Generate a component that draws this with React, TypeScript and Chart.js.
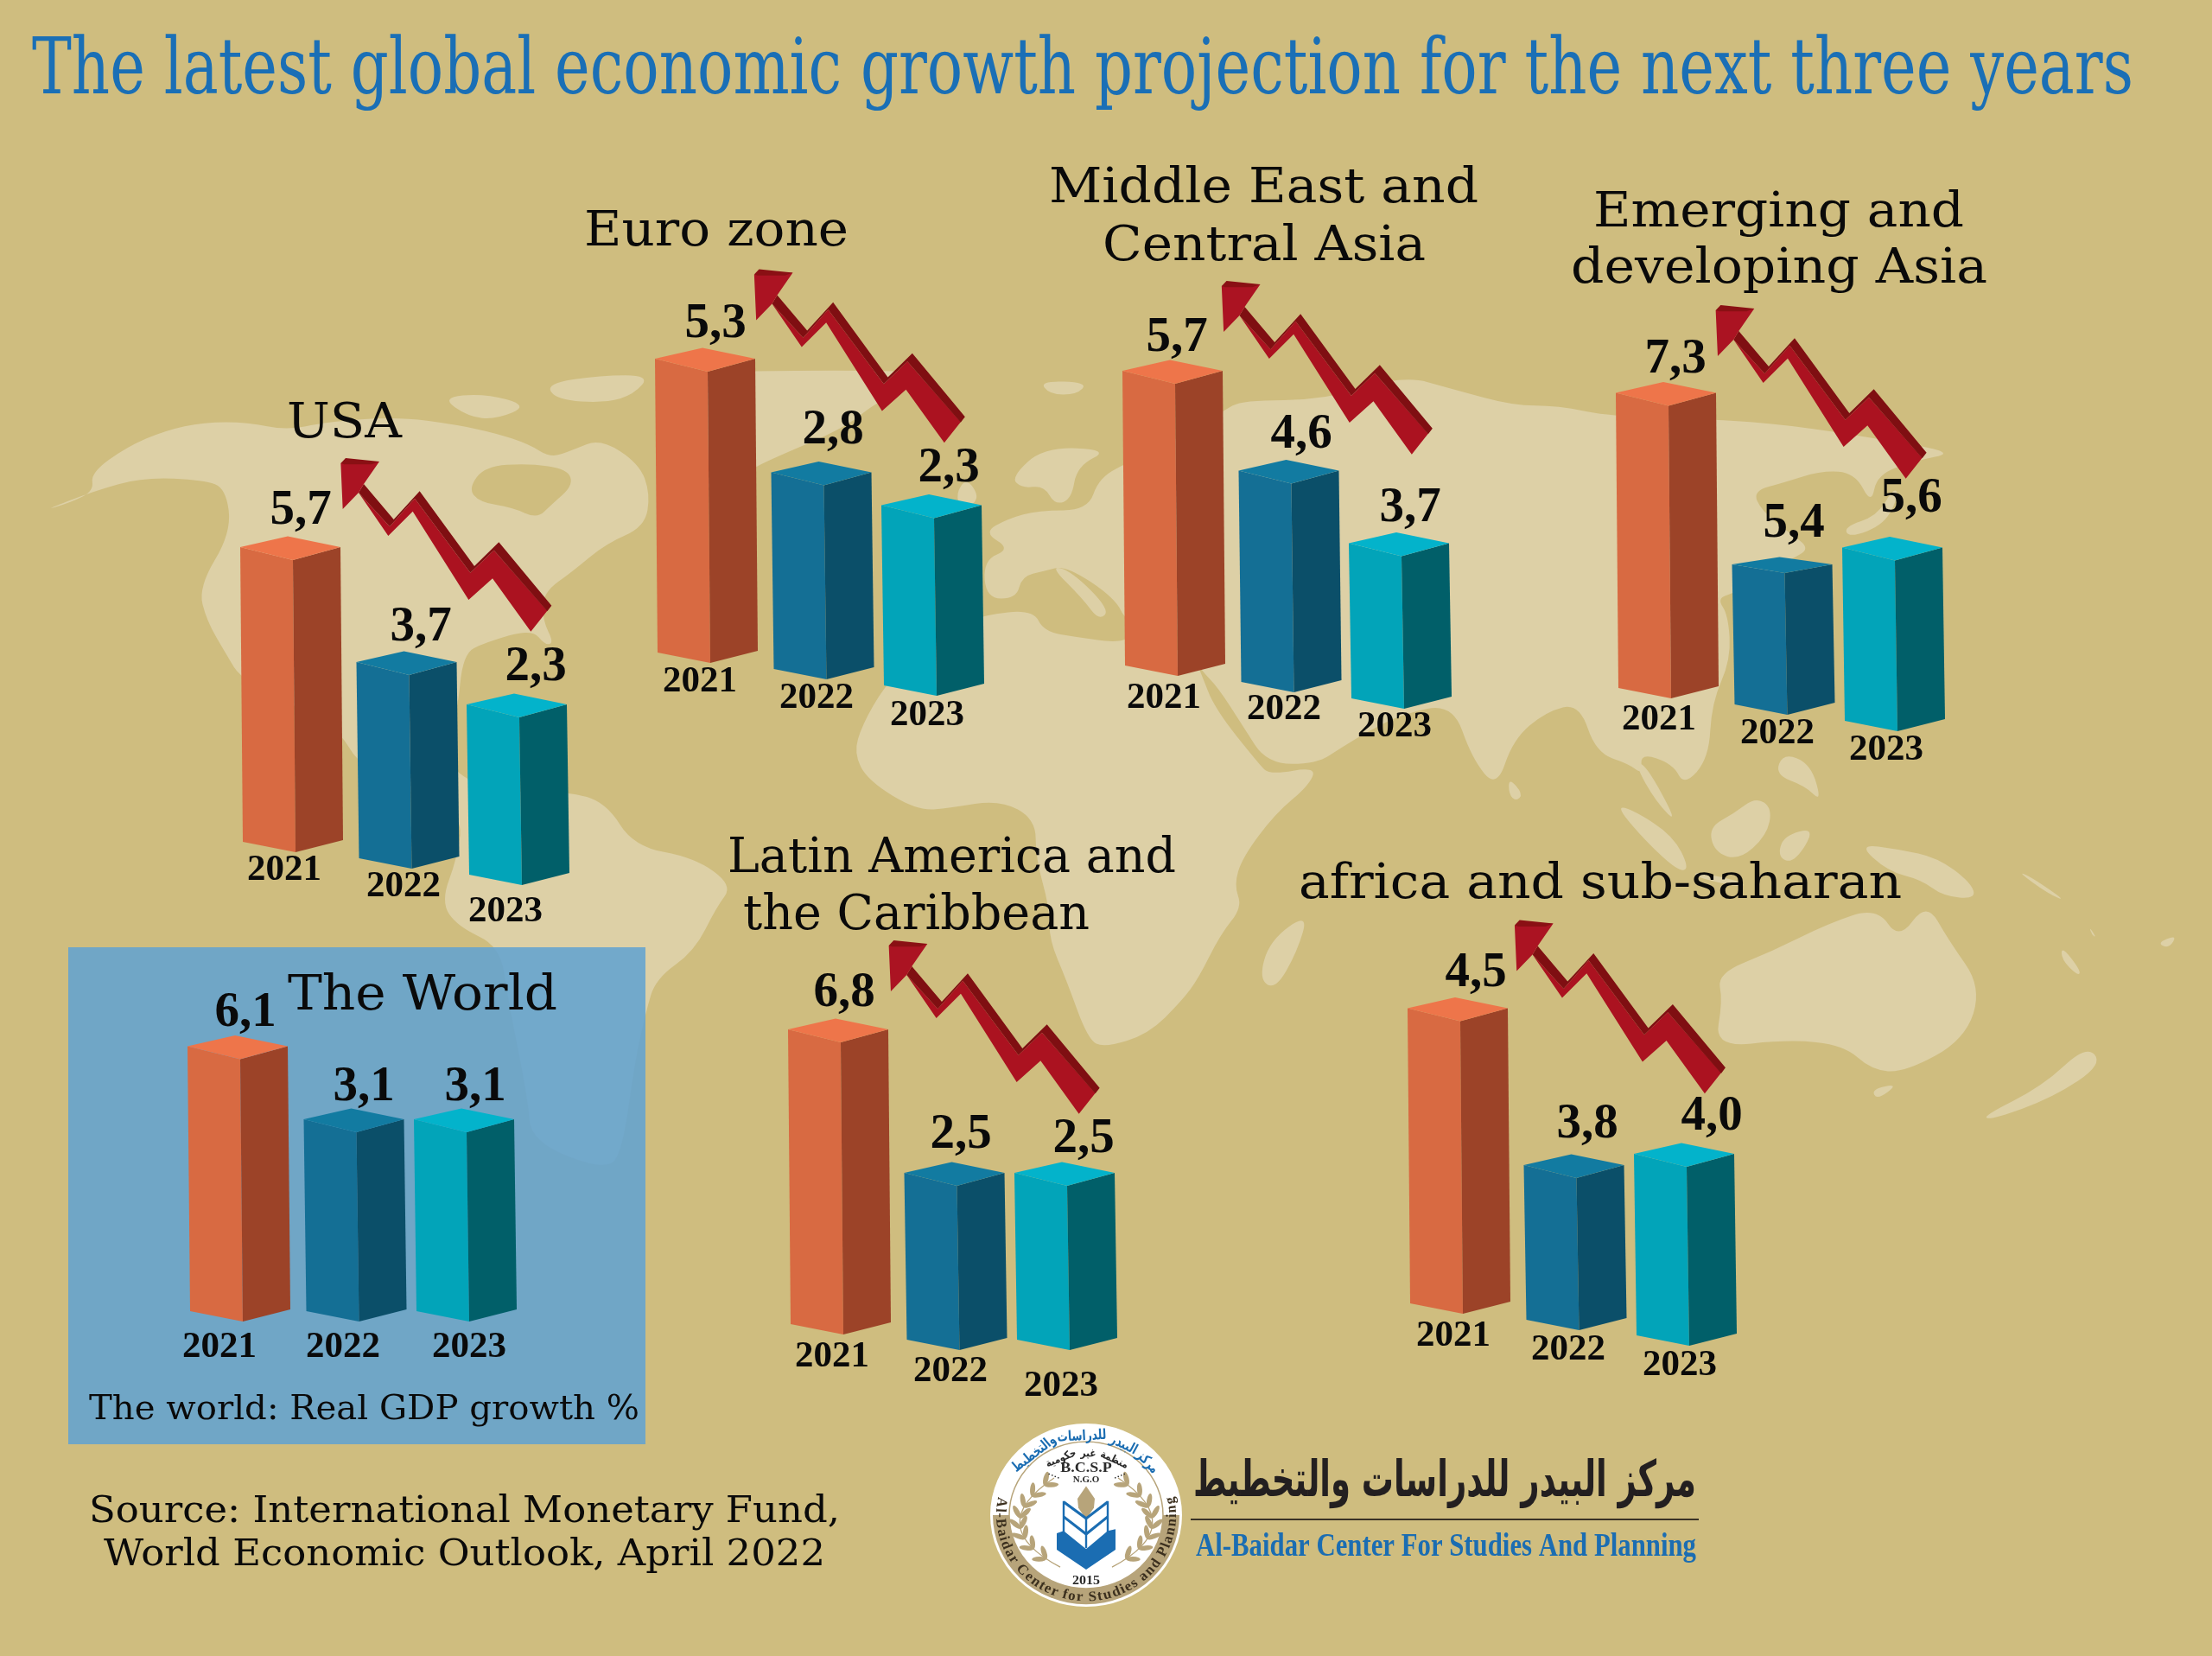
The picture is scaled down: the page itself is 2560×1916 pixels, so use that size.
import React, { useEffect, useRef } from "react";
import { Chart, registerables } from "chart.js";

Chart.register(...registerables);

// ---------- data ----------
const years = ["2021", "2022", "2023"];

// Growth figures printed above the bars
const usaGrowth = [5.7, 3.7, 2.3];
const euroGrowth = [5.3, 2.8, 2.3];
const middleEastGrowth = [5.7, 4.6, 3.7];
const emergingAsiaGrowth = [7.3, 5.4, 5.6];
const latinAmericaGrowth = [6.8, 2.5, 2.5];
const africaGrowth = [4.5, 3.8, 4.0];
const worldGrowth = [6.1, 3.1, 3.1];

// Drawn bar lengths (the artwork does not scale them with the figures)
const usaBarLevels = [6.76, 4.48, 3.88];
const euroBarLevels = [6.74, 4.49, 4.11];
const middleEastBarLevels = [6.76, 4.83, 3.53];
const emergingAsiaBarLevels = [6.77, 3.28, 3.95];
const latinAmericaBarLevels = [6.76, 3.8, 3.8];
const africaBarLevels = [6.77, 3.52, 4.14];
const worldBarLevels = [6.07, 4.38, 4.38];

// ---------- layout & style ----------
const W = 2560;
const H = 1916;
const BG = "#CFBD7F";
const LAND = "#DDD0A6";
const SERIF = '"DejaVu Serif"';
const NUM_FONT = '"Liberation Serif"';

const barColors = [
  { front: "#D86A42", side: "#9C4328", top: "#EE754A" },
  { front: "#146F95", side: "#0B4F69", top: "#127BA1" },
  { front: "#02A4B9", side: "#015F69", top: "#03B3CB" },
];
const FRONT_W = 61;
const SIDE_W = 55;
const SLOT = 131;
const BAR_W = 116;
const MID_NUDGE = [0, 3.5, 0];

type TitleLine = [string, number, number, number];

const panels: any[] = [
  {
    growth: usaGrowth, levels: usaBarLevels, m1: 339, base: 986, drops: [0, 19, 38],
    arrow: [0, 0],
    title: [["USA", 332, 465, 506]] as TitleLine[],
    valuePos: [[348, 606], [487, 741], [620, 787]],
    yearPos: [[329, 1018], [467, 1037], [585, 1066]],
  },
  {
    growth: euroGrowth, levels: euroBarLevels, m1: 819, base: 767, drops: [0, 19, 38],
    arrow: [478.5, -218.5],
    title: [["Euro zone", 676, 982, 284]] as TitleLine[],
    valuePos: [[828, 390], [964, 513], [1098, 557]],
    yearPos: [[810, 800], [945, 819], [1073, 839]],
  },
  {
    growth: middleEastGrowth, levels: middleEastBarLevels, m1: 1360, base: 782, drops: [0, 19, 38],
    arrow: [1019.5, -205],
    title: [["Middle East and", 1214, 1711, 234], ["Central Asia", 1276, 1650, 301]] as TitleLine[],
    valuePos: [[1362, 406], [1506, 518], [1632, 603]],
    yearPos: [[1347, 819], [1486, 832], [1614, 852]],
  },
  {
    growth: emergingAsiaGrowth, levels: emergingAsiaBarLevels, m1: 1931, base: 808, drops: [0, 19, 38],
    topDepth: [1, 0.67, 1],
    arrow: [1591.3, -177],
    title: [["Emerging and", 1844, 2273, 262], ["developing Asia", 1818, 2300, 327]] as TitleLine[],
    valuePos: [[1939, 431], [2076, 621], [2212, 592]],
    yearPos: [[1920, 844], [2057, 860], [2183, 879]],
  },
  {
    growth: latinAmericaGrowth, levels: latinAmericaBarLevels, m1: 973, base: 1544, drops: [0, 18, 18],
    arrow: [634.3, 558],
    title: [["Latin America and", 842, 1361, 1009], ["the Caribbean", 860, 1261, 1075]] as TitleLine[],
    valuePos: [[977, 1164], [1112, 1328], [1254, 1333]],
    yearPos: [[963, 1581], [1100, 1598], [1228, 1615]],
  },
  {
    growth: africaGrowth, levels: africaBarLevels, m1: 1690, base: 1520, drops: [0, 19, 37],
    arrow: [1358.6, 534.6],
    title: [["africa and sub-saharan", 1503, 2201, 1039]] as TitleLine[],
    valuePos: [[1708, 1141], [1837, 1316], [1981, 1307]],
    yearPos: [[1682, 1557], [1815, 1573], [1944, 1591]],
  },
  {
    growth: worldGrowth, levels: worldBarLevels, m1: 278, base: 1529, drops: [0, 0, 0],
    arrow: null,
    title: [["The World", 333, 645, 1168]] as TitleLine[],
    valuePos: [[284, 1187], [421, 1273], [550, 1273]],
    yearPos: [[254, 1570], [397, 1570], [543, 1570]],
  },
];

// ---------- helpers ----------
function poly(ctx: CanvasRenderingContext2D, pts: number[][], fill: string) {
  ctx.fillStyle = fill;
  ctx.beginPath();
  pts.forEach((p, i) => (i ? ctx.lineTo(p[0], p[1]) : ctx.moveTo(p[0], p[1])));
  ctx.closePath();
  ctx.fill();
}

function smoothPoly(ctx: CanvasRenderingContext2D, pts: number[][], fill: string) {
  const n = pts.length;
  ctx.fillStyle = fill;
  ctx.beginPath();
  const mid = (a: number[], b: number[]) => [(a[0] + b[0]) / 2, (a[1] + b[1]) / 2];
  const s = mid(pts[n - 1], pts[0]);
  ctx.moveTo(s[0], s[1]);
  pts.forEach((p, i) => {
    const m = mid(p, pts[(i + 1) % n]);
    ctx.quadraticCurveTo(p[0], p[1], m[0], m[1]);
  });
  ctx.closePath();
  ctx.fill();
}

function fitText(
  ctx: CanvasRenderingContext2D,
  text: string,
  left: number,
  right: number,
  baseline: number,
  font: string,
  color: string,
  rtl = false
) {
  ctx.save();
  ctx.font = font;
  ctx.fillStyle = color;
  ctx.textBaseline = "alphabetic";
  ctx.textAlign = "left";
  ctx.direction = rtl ? "rtl" : "ltr";
  if (rtl) ctx.textAlign = "right";
  const w = ctx.measureText(text).width;
  const sx = (right - left) / w;
  ctx.translate(rtl ? right : left, baseline);
  ctx.scale(sx, 1);
  ctx.fillText(text, 0, 0);
  ctx.restore();
}

// arrow outline, placed at the USA panel then shifted per panel
const az = (a: number[][]) => a.map((p) => [385 + p[0] / 3, 520 + p[1] / 3]);
const arrowHead = az([[28, 48], [162, 42], [108, 120], [90, 150], [35, 207]]);
const arrowHeadTop = az([[28, 48], [45, 30], [162, 42], [135, 52], [40, 52]]);
const arrowFace = az([
  [90, 150], [198, 268], [285, 170], [478, 428], [560, 350], [745, 560], [688, 632], [555, 448], [472, 522], [278, 215], [193, 300],
]);
const arrowBand = az([
  [108, 120], [212, 243], [302, 145], [492, 405], [577, 322], [760, 542], [745, 562], [560, 350], [478, 428], [285, 170], [198, 268], [90, 150],
]);

function drawArrow(ctx: CanvasRenderingContext2D, dx: number, dy: number) {
  const sh = (a: number[][]) => a.map((p) => [p[0] + dx, p[1] + dy]);
  poly(ctx, sh(arrowFace), "#AB1220");
  poly(ctx, sh(arrowBand), "#7F0F12");
  poly(ctx, sh(arrowHead), "#AB1322");
  poly(ctx, sh(arrowHeadTop), "#8A1014");
}

const panelPlugin = {
  id: "panelArt",
  afterDatasetsDraw(chart: any) {
    const ctx: CanvasRenderingContext2D = chart.ctx;
    const panel = chart.options.plugins.panelArt.panel;
    const meta = chart.getDatasetMeta(0);
    ctx.save();
    meta.data.forEach((el: any, i: number) => {
      const drop = panel.drops[i];
      const f = panel.topDepth ? panel.topDepth[i] : 1;
      const M = el.x - el.width / 2 + FRONT_W + MID_NUDGE[i];
      const yt = el.y + drop;
      const yb = el.base + drop;
      const c = barColors[i];
      poly(ctx, [[M - FRONT_W, yt - 15 * f], [M, yt], [M + 3, yb], [M - FRONT_W + 3, yb - 12]], c.front);
      poly(ctx, [[M, yt], [M + SIDE_W, yt - 15 * f], [M + SIDE_W + 3, yb - 14], [M + 3, yb]], c.side);
      poly(ctx, [[M - FRONT_W, yt - 15 * f], [M - 6, yt - 27.5 * f], [M + SIDE_W, yt - 15 * f], [M, yt]], c.top);
    });
    if (panel.arrow) drawArrow(ctx, panel.arrow[0], panel.arrow[1]);

    ctx.fillStyle = "#0A0A0A";
    ctx.textBaseline = "alphabetic";
    ctx.textAlign = "center";
    ctx.font = `bold 57px ${NUM_FONT}`;
    panel.growth.forEach((v: number, i: number) => {
      ctx.fillText(v.toFixed(1).replace(".", ","), panel.valuePos[i][0], panel.valuePos[i][1]);
    });
    ctx.font = `bold 43px ${NUM_FONT}`;
    chart.data.labels.forEach((y: string, i: number) => {
      ctx.fillText(y, panel.yearPos[i][0], panel.yearPos[i][1]);
    });
    panel.title.forEach((t: TitleLine) => {
      fitText(ctx, t[0], t[1], t[2], t[3], `56px ${SERIF}`, "#0A0A0A");
    });
    ctx.restore();
  },
};

// ---------- map (decorative backdrop) ----------
const z5 = (a: number[][]) => a.map((p) => [p[0] / 1.568, 380 + p[1] / 1.568]);
const z6 = (a: number[][]) => a.map((p) => [800 + p[0] / 1.568, 380 + p[1] / 1.568]);
const z7 = (a: number[][]) => a.map((p) => [1560 + p[0] / 1.568, 380 + p[1] / 1.568]);

const landShapes: number[][][] = [
  // North + Central + South America
  z5([
    [75, 332], [130, 315], [170, 295], [165, 262], [230, 215], [300, 185], [370, 170], [450, 170], [520, 185],
    [590, 170], [720, 160], [830, 175], [900, 190], [960, 210], [1000, 235], [1040, 220], [1090, 200], [1160, 245],
    [1180, 300], [1170, 360], [1100, 390], [1040, 440], [985, 480], [985, 530], [1005, 570], [990, 575], [965, 545],
    [880, 570], [840, 590], [830, 700], [800, 760], [830, 810], [900, 840], [1030, 840], [1100, 860], [1150, 940],
    [1260, 960], [1330, 1010], [1300, 1050], [1260, 1130], [1190, 1180], [1172, 1240], [1152, 1330], [1130, 1488],
    [1102, 1529], [964, 1476], [958, 1397], [922, 1217], [908, 1121], [830, 1085], [800, 1040], [830, 960],
    [840, 880], [720, 830], [650, 790], [610, 720], [440, 640], [410, 590], [375, 530], [360, 470], [420, 370],
    [410, 290], [370, 275], [260, 270], [170, 295],
  ]),
  // Arctic islands
  z5([[800, 125], [880, 118], [960, 140], [900, 165], [850, 160]]),
  z5([[990, 100], [1090, 85], [1180, 85], [1150, 120], [1100, 135], [1010, 130]]),
  // Greenland
  z6([[-60, 80], [280, 75], [460, 80], [340, 130], [280, 180], [150, 235], [100, 260], [60, 300], [-20, 270]]),
  // Iceland
  z6([[632, 95], [720, 98], [700, 120], [650, 120]]),
  // Scandinavia
  z6([[580, 270], [640, 215], [760, 220], [700, 250], [690, 310], [660, 320], [640, 285], [600, 290]]),
  // UK
  z6([[480, 300], [500, 270], [525, 310], [490, 330]]),
  // Eurasia
  [
    ...z6([
      [535, 490], [530, 420], [580, 400], [530, 370], [575, 345], [630, 330], [720, 330], [740, 270], [800, 240],
      [900, 190], [965, 150], [1000, 130], [1150, 130],
    ]),
    ...z7([
      [100, 85], [190, 110], [300, 140], [380, 140], [480, 160], [670, 165], [800, 175], [960, 200], [1105, 225],
      [1030, 240], [960, 265], [950, 320], [920, 262], [860, 258], [790, 280], [735, 295], [750, 330], [800, 370],
      [840, 400], [800, 420], [760, 450], [700, 480], [670, 490], [690, 520], [695, 600], [660, 680], [655, 780],
      [610, 830], [590, 790], [530, 770], [535, 810], [510, 790], [450, 770], [420, 680], [360, 695], [300, 745],
      [270, 835], [225, 780], [190, 680],
    ]),
    ...z6([
      [1290, 700], [1230, 730], [1180, 760], [1135, 790], [1045, 790], [1000, 720], [955, 650], [925, 620], [910, 590],
      [905, 555], [880, 545], [790, 535], [770, 490], [680, 430], [640, 440], [600, 450], [590, 490],
    ]),
  ],
  // Italy
  z6([[650, 430], [690, 440], [760, 510], [740, 530], [710, 490]]),
  // Africa
  z6([
    [310, 720], [350, 650], [400, 600], [480, 540], [530, 520], [620, 510], [640, 550], [700, 560], [770, 570],
    [800, 560], [910, 590], [925, 625], [950, 690], [1030, 790], [1050, 810], [1135, 795], [1120, 830], [1060, 880],
    [1000, 960], [985, 1010], [1000, 1050], [960, 1100], [920, 1180], [890, 1220], [830, 1280], [750, 1305], [720, 1290],
    [680, 1180], [650, 1110], [650, 1050], [625, 960], [625, 890], [560, 855], [470, 870], [410, 875], [320, 820], [295, 770],
  ]),
  // Madagascar
  z6([[1030, 1180], [1050, 1110], [1120, 1060], [1100, 1130], [1060, 1200]]),
  // Sri Lanka
  z7([[292, 815], [318, 845], [305, 858], [292, 845]]),
  // Japan
  z7([[900, 360], [960, 340], [990, 290], [1000, 300], [975, 355], [910, 380]]),
  // Malay peninsula, Sumatra, Borneo, Sulawesi, Java, Philippines, Papua
  z7([[520, 790], [540, 790], [600, 900], [560, 860]]),
  z7([[485, 865], [520, 875], [590, 920], [620, 980], [600, 985], [540, 930]]),
  z7([[655, 905], [700, 880], [740, 850], [770, 870], [760, 920], [710, 965], [665, 950]]),
  z7([[790, 920], [850, 905], [810, 970], [780, 960]]),
  z7([[630, 985], [720, 1005], [715, 1015], [630, 995]]),
  z7([[790, 770], [840, 790], [860, 860], [830, 830], [775, 810]]),
  z7([[925, 935], [1000, 945], [1070, 960], [1130, 1005], [1140, 1035], [1080, 1030], [1040, 1000], [980, 985]]),
  z7([[1215, 985], [1240, 995], [1305, 1040], [1270, 1025]]),
  // Australia, Tasmania, New Zealand, small islands
  z7([
    [670, 1170], [770, 1130], [870, 1080], [960, 1050], [1000, 1110], [1050, 1040], [1090, 1110], [1150, 1195],
    [1120, 1290], [1010, 1350], [950, 1345], [900, 1300], [800, 1290], [665, 1305], [680, 1220],
  ]),
  z7([[950, 1380], [1000, 1370], [960, 1400]]),
  z7([[1150, 1430], [1260, 1375], [1340, 1300], [1370, 1335], [1280, 1395], [1170, 1435]]),
  z7([[1295, 1120], [1330, 1165], [1325, 1175], [1295, 1145]]),
  z7([[1468, 1115], [1505, 1100], [1490, 1125]]),
  z7([[1345, 1085], [1358, 1105], [1350, 1100]]),
];
const seaShapes: number[][][] = [
  // Hudson Bay
  z5([[850, 290], [880, 250], [960, 245], [1030, 255], [1040, 285], [1000, 320], [975, 345], [930, 325], [870, 315]]),
];

// ---------- backdrop, headline, logo ----------
function arcWord(ctx: CanvasRenderingContext2D, word: string, angleDeg: number, r: number, sx: number) {
  ctx.save();
  ctx.rotate((angleDeg * Math.PI) / 180);
  ctx.translate(0, -r);
  ctx.scale(sx, 1);
  ctx.fillText(word, 0, 0);
  ctx.restore();
}

function drawLogo(ctx: CanvasRenderingContext2D) {
  const TAN = "#B7A47A";
  const BLUE = "#1B6DB2";
  ctx.save();
  ctx.translate(1257, 1753);
  ctx.scale(1, 0.955);
  ctx.fillStyle = "#FFFFFF";
  ctx.beginPath();
  ctx.arc(0, 0, 111, 0, Math.PI * 2);
  ctx.fill();
  ctx.fillStyle = TAN;
  ctx.beginPath();
  ctx.arc(0, 0, 108, 0, Math.PI);
  ctx.closePath();
  ctx.fill();
  ctx.fillStyle = "#FFFFFF";
  ctx.beginPath();
  ctx.arc(0, 0, 89, 0, Math.PI * 2);
  ctx.fill();
  ctx.strokeStyle = TAN;
  ctx.lineWidth = 1.5;
  ctx.beginPath();
  ctx.arc(0, 0, 89, 0, Math.PI * 2);
  ctx.stroke();

  // wreath
  [-1, 1].forEach((s) => {
    const P0 = [30, 63];
    const C = [120, 13];
    const P2 = [37, -45];
    ctx.strokeStyle = TAN;
    ctx.lineWidth = 1.3;
    ctx.beginPath();
    ctx.moveTo(s * P0[0], P0[1]);
    ctx.quadraticCurveTo(s * C[0], C[1], s * P2[0], P2[1]);
    ctx.stroke();
    ctx.fillStyle = TAN;
    for (let t = 0.1; t < 1.02; t += 0.118) {
      const u = 1 - t;
      const px = u * u * P0[0] + 2 * u * t * C[0] + t * t * P2[0];
      const py = u * u * P0[1] + 2 * u * t * C[1] + t * t * P2[1];
      const tx = 2 * u * (C[0] - P0[0]) + 2 * t * (P2[0] - C[0]);
      const ty = 2 * u * (C[1] - P0[1]) + 2 * t * (P2[1] - C[1]);
      const th = Math.atan2(ty, tx);
      [-0.65, 0.65].forEach((off) => {
        const a = th + off;
        ctx.beginPath();
        ctx.ellipse(s * (px + Math.cos(a) * 8), py + Math.sin(a) * 8, 8.5, 3, s > 0 ? a : Math.PI - a, 0, Math.PI * 2);
        ctx.fill();
      });
    }
    for (let d = 0; d < 4; d++) {
      ctx.fillStyle = "#2A2A2A";
      ctx.fillRect(s * (33 + d * 3.5), -46 - d * 1.5, 1.5, 1.5);
      ctx.fillStyle = TAN;
    }
  });

  // emblem: pen nib, open pages, book base
  poly(ctx, [[0, -35], [10, -20], [9, -9], [0, 5], [-9, -9], [-10, -20]], TAN);
  poly(ctx, [[-34, 22], [-26, 19], [0, 41], [25, 19], [34, 17], [34, 42], [0, 66], [-34, 42]], BLUE);
  ctx.strokeStyle = BLUE;
  ctx.lineJoin = "miter";
  ctx.lineWidth = 3.2;
  [[-26, -16, 4, 25, -16], [-26, 2, 23, 25, 2]].forEach((v) => {
    ctx.beginPath();
    ctx.moveTo(v[0], v[1]);
    ctx.lineTo(0, v[2]);
    ctx.lineTo(v[3], v[4]);
    ctx.stroke();
  });
  ctx.lineWidth = 2.4;
  [[-26, -17, -26, 21], [25, -17, 25, 21], [0, 4, 0, 40]].forEach((v) => {
    ctx.beginPath();
    ctx.moveTo(v[0], v[1]);
    ctx.lineTo(v[2], v[3]);
    ctx.stroke();
  });

  ctx.textAlign = "center";
  ctx.textBaseline = "alphabetic";
  ctx.fillStyle = "#2A2A2A";
  ctx.font = `bold 18px ${NUM_FONT}`;
  ctx.fillText("B.C.S.P", 0, -52);
  ctx.font = `bold 11px ${NUM_FONT}`;
  ctx.fillText("N.G.O", 0, -40);
  ctx.font = `bold 16px ${NUM_FONT}`;
  ctx.fillText("2015", 0, 84);

  // Arabic rings, word by word along the top arc
  ctx.direction = "rtl";
  ctx.fillStyle = BLUE;
  ctx.font = 'bold 17px "DejaVu Sans"';
  [["مركز", 48], ["البيدر", 27], ["للدراسات", -3], ["والتخطيط", -39]].forEach(([w, a]) =>
    arcWord(ctx, w as string, a as number, 91, 0.72)
  );
  ctx.fillStyle = "#2A2A2A";
  ctx.font = 'bold 13px "DejaVu Sans"';
  [["منظمة", 26], ["غير", 2], ["حكومية", -23]].forEach(([w, a]) =>
    arcWord(ctx, w as string, a as number, 71, 0.8)
  );
  ctx.direction = "ltr";

  // English ring, letter by letter along the bottom arc
  const ring = "Al-Baidar Center for Studies and Planning";
  ctx.fillStyle = "#3B2F1E";
  ctx.font = `bold 17px ${NUM_FONT}`;
  const total = ctx.measureText(ring).width;
  const spanDeg = 206;
  let cum = 0;
  ring.split("").forEach((ch) => {
    const w = ctx.measureText(ch).width;
    const a = 103 - ((cum + w / 2) / total) * spanDeg;
    cum += w;
    ctx.save();
    ctx.rotate((a * Math.PI) / 180);
    ctx.translate(0, 104);
    ctx.fillText(ch, 0, 0);
    ctx.restore();
  });
  ctx.restore();
}

function drawBackdrop(ctx: CanvasRenderingContext2D) {
  ctx.fillStyle = BG;
  ctx.fillRect(0, 0, W, H);
  landShapes.forEach((s) => smoothPoly(ctx, s, LAND));
  seaShapes.forEach((s) => smoothPoly(ctx, s, BG));

  ctx.fillStyle = "rgba(99,163,208,0.88)";
  ctx.fillRect(79, 1096, 668, 575);

  fitText(
    ctx,
    "The latest global economic growth projection for the next three years",
    37, 2469, 108, `89px ${SERIF}`, "#1A6FB6"
  );
  fitText(ctx, "The world: Real GDP growth %", 103, 740, 1642, `40px ${SERIF}`, "#0A0A0A");
  fitText(ctx, "Source: International Monetary Fund,", 103, 972, 1761, `42px ${SERIF}`, "#0A0A0A");
  fitText(ctx, "World Economic Outlook, April 2022", 120, 955, 1811, `42px ${SERIF}`, "#0A0A0A");

  drawLogo(ctx);
  fitText(ctx, "مركز البيدر للدراسات والتخطيط", 1381, 1963, 1731, 'bold 58px "DejaVu Sans"', "#231F20", true);
  ctx.fillStyle = "#3A3226";
  ctx.fillRect(1378, 1757, 588, 2);
  fitText(ctx, "Al-Baidar Center For Studies And Planning", 1384, 1963, 1800, `bold 37px ${NUM_FONT}`, "#1B6DB2");
}

// ---------- component ----------
const Y_SPAN = 500; // pixels covered by the y axis, 0 to 10

export default function App() {
  const bgRef = useRef<HTMLCanvasElement | null>(null);
  const refs = useRef<(HTMLCanvasElement | null)[]>([]);

  useEffect(() => {
    document.body.style.margin = "0";
    const bg = bgRef.current;
    if (bg) drawBackdrop(bg.getContext("2d") as CanvasRenderingContext2D);

    const charts = panels.map((panel, idx) => {
      const left = panel.m1 - FRONT_W + BAR_W / 2 - SLOT / 2;
      const right = W - left - SLOT * 3;
      return new Chart(refs.current[idx] as HTMLCanvasElement, {
        type: "bar",
        data: {
          labels: years,
          datasets: [
            {
              label: "Real GDP growth %",
              data: panel.levels,
              backgroundColor: "rgba(0,0,0,0)",
              borderWidth: 0,
              barPercentage: BAR_W / SLOT,
              categoryPercentage: 1,
            },
          ],
        },
        options: {
          animation: false,
          responsive: false,
          maintainAspectRatio: false,
          devicePixelRatio: 1,
          events: [],
          layout: {
            padding: { left, right, top: panel.base - Y_SPAN, bottom: H - panel.base },
          },
          scales: {
            x: { type: "category", display: false },
            y: { type: "linear", min: 0, max: 10, display: false },
          },
          plugins: {
            legend: { display: false },
            title: { display: false },
            tooltip: { enabled: false },
            panelArt: { panel },
          } as any,
        },
        plugins: [panelPlugin as any],
      });
    });
    return () => charts.forEach((c) => c.destroy());
  }, []);

  const layer: React.CSSProperties = { position: "absolute", left: 0, top: 0, display: "block" };
  return (
    <div style={{ position: "absolute", left: 0, top: 0, width: W, height: H, overflow: "hidden" }}>
      <canvas ref={bgRef} width={W} height={H} style={layer} />
      {panels.map((_, i) => (
        <canvas
          key={i}
          ref={(el) => {
            refs.current[i] = el;
          }}
          width={W}
          height={H}
          style={layer}
        />
      ))}
    </div>
  );
}
